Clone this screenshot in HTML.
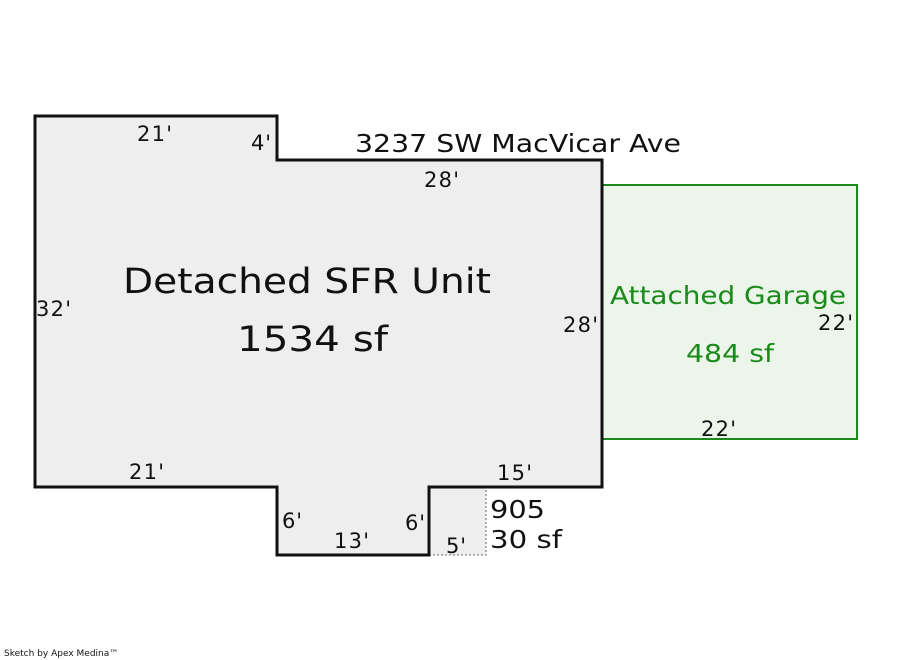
<!DOCTYPE html>
<html><head><meta charset="utf-8"><style>html,body{margin:0;padding:0;background:#fff}svg{display:block}text{font-family:"DejaVu Sans","Liberation Sans",sans-serif}</style></head><body>
<svg width="900" height="660" viewBox="0 0 900 660" xmlns="http://www.w3.org/2000/svg">
<rect x="602" y="185" width="255" height="254" fill="#ebf5ea" stroke="#1a8a1a" stroke-width="2"/>
<rect x="429" y="487" width="57" height="68" fill="#eeeeee" stroke="#888" stroke-width="1.3" stroke-dasharray="2,2"/>
<polygon points="35,116 277,116 277,160 602,160 602,487 429,487 429,555 277,555 277,487 35,487" fill="#eeeeee" stroke="#111" stroke-width="3"/>
<g font-size="21" fill="#111">
<text x="137" y="141" textLength="35">21'</text>
<text x="251" y="150" textLength="20">4'</text>
<text x="424" y="187" textLength="35">28'</text>
<text x="36" y="316" textLength="35">32'</text>
<text x="563" y="332" textLength="35">28'</text>
<text x="129" y="479" textLength="35">21'</text>
<text x="497" y="480" textLength="35">15'</text>
<text x="282" y="528" textLength="20">6'</text>
<text x="405" y="530" textLength="20">6'</text>
<text x="334" y="548" textLength="35">13'</text>
<text x="446" y="553" textLength="20">5'</text>
<text x="818" y="330" textLength="35">22'</text>
<text x="701" y="436" textLength="35">22'</text>
</g>
<text x="355" y="152" font-size="25" fill="#111" textLength="326" lengthAdjust="spacingAndGlyphs">3237 SW MacVicar Ave</text>
<text x="490" y="518" font-size="25" fill="#111" textLength="55" lengthAdjust="spacingAndGlyphs">905</text>
<text x="490" y="548" font-size="25" fill="#111" textLength="72" lengthAdjust="spacingAndGlyphs">30 sf</text>
<text x="123" y="293" font-size="35" fill="#111" textLength="368" lengthAdjust="spacingAndGlyphs">Detached SFR Unit</text>
<text x="237" y="351" font-size="35" fill="#111" textLength="151" lengthAdjust="spacingAndGlyphs">1534 sf</text>
<text x="610" y="304" font-size="25" fill="#1a8a1a" textLength="236" lengthAdjust="spacingAndGlyphs">Attached Garage</text>
<text x="686" y="362" font-size="25" fill="#1a8a1a" textLength="88" lengthAdjust="spacingAndGlyphs">484 sf</text>
<text x="4" y="656" font-size="9" fill="#111" font-family="Liberation Sans, sans-serif">Sketch by Apex Medina™</text>
</svg>
</body></html>
